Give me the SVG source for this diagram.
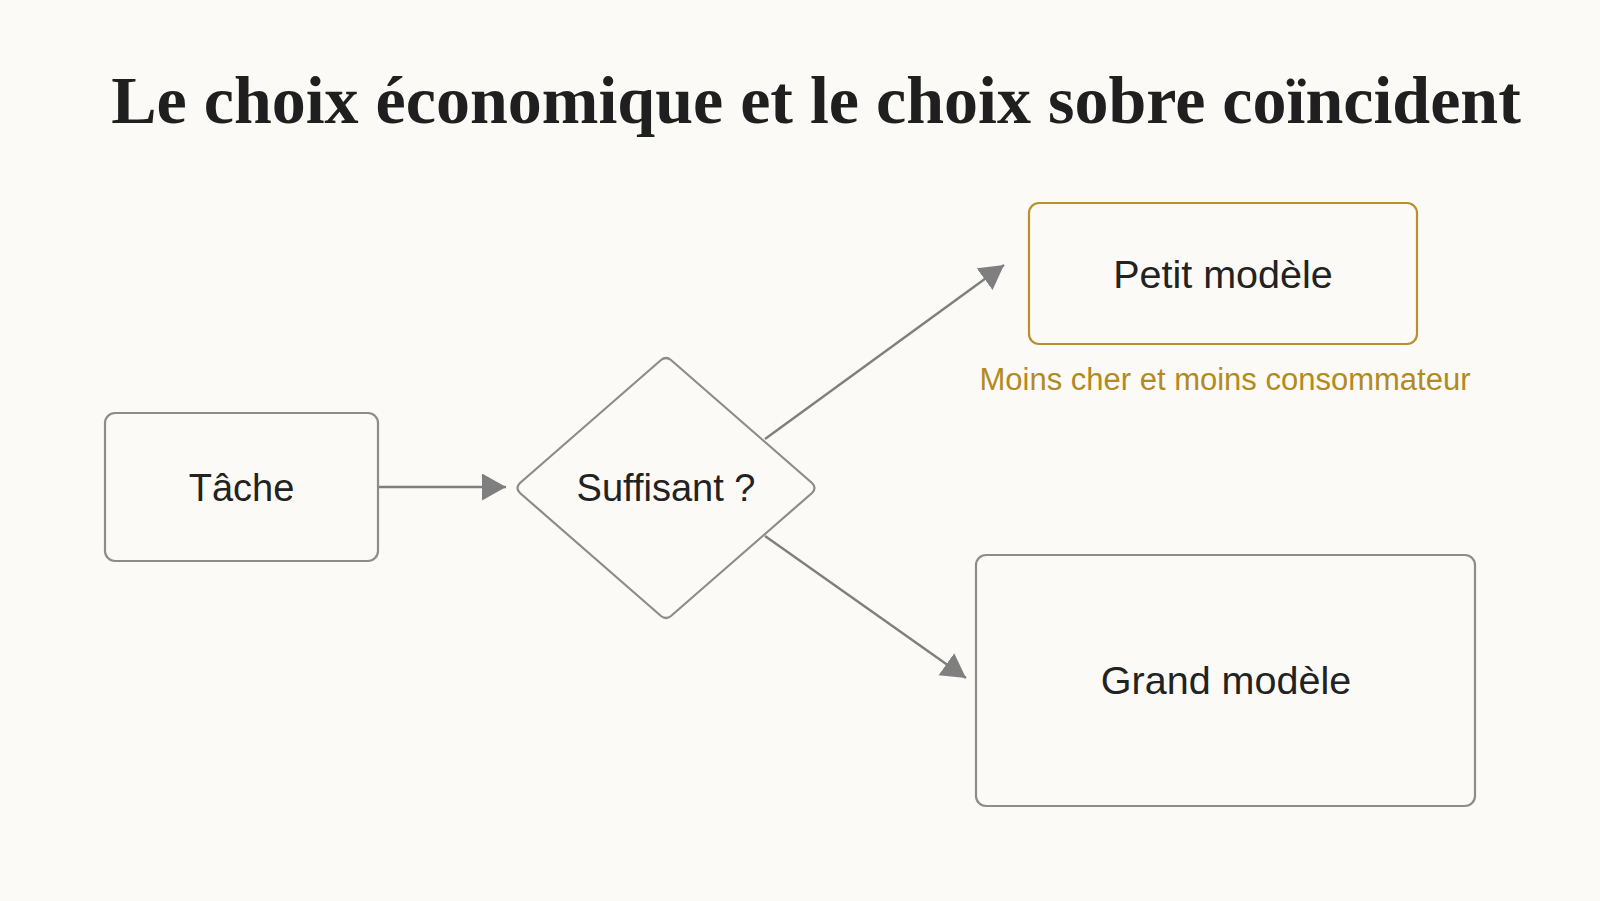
<svg xmlns="http://www.w3.org/2000/svg" width="1600" height="901" viewBox="0 0 1600 901">
  <defs>
    <marker id="arrow" markerUnits="userSpaceOnUse" markerWidth="26" markerHeight="28" refX="24" refY="13.5" orient="auto">
      <path d="M0,0 L24,13.5 L0,27 Z" fill="#7f7f7f"/>
    </marker>
    <style>
      .node { fill: #fbfaf6; stroke: #8c8c8c; stroke-width: 2.2; }
      .gold { fill: #fbfaf6; stroke: #b8912c; stroke-width: 2.2; }
      .label { font-family: "Liberation Sans", Arial, sans-serif; font-size: 38px; fill: #222222; text-anchor: middle; }
      .big { font-size: 39.5px; }
      .note { font-family: "Liberation Sans", Arial, sans-serif; font-size: 31px; fill: #b38a22; text-anchor: middle; }
      .title { font-family: "Liberation Serif", "Times New Roman", serif; font-weight: bold; font-size: 68px; fill: #1f1f1f; text-anchor: middle; }
      .conn { stroke: #7f7f7f; stroke-width: 2.4; fill: none; marker-end: url(#arrow); }
    </style>
  </defs>
  <rect width="1600" height="901" fill="#fbfaf6"/>
  <text class="title" x="816" y="123">Le choix économique et le choix sobre coïncident</text>

  <g id="connectors">
    <line class="conn" x1="378" y1="487" x2="506" y2="487"/>
    <line class="conn" x1="765" y1="439" x2="1004" y2="265"/>
    <line class="conn" x1="765" y1="536" x2="966" y2="678"/>
  </g>

  <g id="node-tache">
    <rect class="node" x="105" y="413" width="273" height="148" rx="10"/>
    <text class="label" x="241.5" y="501">Tâche</text>
  </g>
  <g id="node-suffisant">
    <path class="node" d="M661,360 Q666,356 671,360 L812,483 Q817,488 812,493 L671,616 Q666,620 661,616 L520,493 Q515,488 520,483 Z"/>
    <text class="label" x="666" y="501">Suffisant ?</text>
  </g>
  <g id="node-petit">
    <rect class="gold" x="1029" y="203" width="388" height="141" rx="10"/>
    <text class="label big" x="1223" y="288">Petit modèle</text>
  </g>
  <g id="note-petit">
    <text class="note" x="1225" y="390">Moins cher et moins consommateur</text>
  </g>
  <g id="node-grand">
    <rect class="node" x="976" y="555" width="499" height="251" rx="10"/>
    <text class="label big" x="1226" y="694">Grand modèle</text>
  </g>
</svg>
